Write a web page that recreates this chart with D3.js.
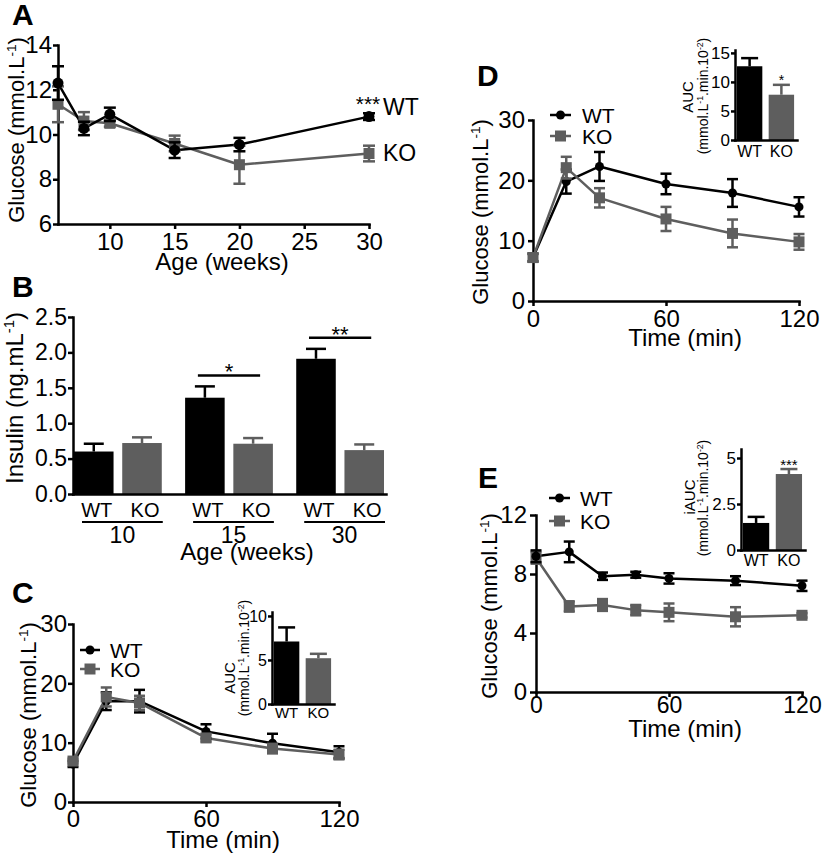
<!DOCTYPE html>
<html><head><meta charset="utf-8">
<script src="https://cdn.jsdelivr.net/npm/d3@7/dist/d3.min.js"></script>
<style>html,body{margin:0;padding:0;background:#fff}</style>
</head><body>
<svg id="chart" width="827" height="855" xmlns="http://www.w3.org/2000/svg"></svg>
<script>
// ---------------- DATA ----------------
// Panel A: glucose vs age
const ageWeeks  = [6, 8, 10, 15, 20, 30];
const ageWT     = [12.3, 10.27, 10.9, 9.3, 9.55, 10.8];
const ageWTerr  = [0.75, 0.3, 0.3, 0.35, 0.3, 0.15];
const ageKO     = [11.35, 10.6, 10.5, 9.6, 8.65, 9.15];
const ageKOerr  = [0.8, 0.4, 0.15, 0.35, 0.85, 0.35];
const ageXTicks = [10, 15, 20, 25, 30];
const ageYTicks = [6, 8, 10, 12, 14];

// Panel B: insulin
const insulinAges   = ["10", "15", "30"];
const genotypes     = ["WT", "KO"];
const insulinWT     = [0.6, 1.36, 1.91];
const insulinWTerr  = [0.11, 0.16, 0.14];
const insulinKO     = [0.72, 0.71, 0.62];
const insulinKOerr  = [0.08, 0.08, 0.08];
const insulinSig    = ["", "*", "**"];
const insulinYTicks = [0, 0.5, 1.0, 1.5, 2.0, 2.5];

// Panels C, D: glucose tolerance (time in min)
const gttTime   = [0, 15, 30, 60, 90, 120];
const timeTicks = [0, 60, 120];
const glucYTicks30 = [0, 10, 20, 30];
const gttC_WT    = [6.4, 17.0, 17.0, 11.9, 9.9, 8.4];
const gttC_WTerr = [0.5, 1.5, 1.9, 1.2, 1.6, 1.0];
const gttC_KO    = [6.9, 17.7, 16.7, 10.8, 9.0, 8.0];
const gttC_KOerr = [0.4, 1.6, 1.2, 0.6, 0.8, 0.8];
const aucC       = [7.1, 5.2];
const aucCerr    = [1.6, 0.5];
const aucCTicks  = [0, 5, 10];

const gttD_WT    = [7.2, 19.8, 22.3, 19.4, 17.9, 15.6];
const gttD_WTerr = [0.6, 2.0, 2.4, 1.7, 2.3, 1.6];
const gttD_KO    = [7.2, 22.1, 17.1, 13.6, 11.2, 9.8];
const gttD_KOerr = [0.7, 1.8, 1.6, 2.0, 2.3, 1.3];
const aucD       = [12.7, 7.8];
const aucDerr    = [1.4, 1.7];
const aucDSig    = ["", "*"];
const aucDTicks  = [0, 5, 10, 15];

// Panel E: insulin tolerance
const ittTime    = [0, 15, 30, 45, 60, 90, 120];
const ittYTicks  = [0, 4, 8, 12];
const ittE_WT    = [9.2, 9.5, 7.85, 7.95, 7.7, 7.55, 7.2];
const ittE_WTerr = [0.4, 0.7, 0.25, 0.2, 0.35, 0.3, 0.35];
const ittE_KO    = [9.1, 5.8, 5.9, 5.55, 5.4, 5.1, 5.2];
const ittE_KOerr = [0.4, 0.35, 0.4, 0.35, 0.6, 0.65, 0.15];
const iaucE      = [1.47, 4.13];
const iaucEerr   = [0.33, 0.27];
const iaucESig   = ["", "***"];
const iaucETicks = [0, 2.5, 5];

// ---------------- STYLE ----------------
const FONT = '"Liberation Sans", Arial, Helvetica, sans-serif';
const BLACK = "#000000";
const GRAY = "#5e5e5e";
const LW = 2.5;

const svg = d3.select("#chart").attr("font-family", FONT);

function label(g, x, y, content, o = {}) {
  const size = o.size || 24;
  const t = g.append("text")
    .attr("transform", `translate(${x},${y})` + (o.rot ? " rotate(-90)" : ""))
    .attr("font-size", size)
    .attr("font-family", FONT)
    .attr("font-weight", o.bold ? "bold" : "normal")
    .attr("text-anchor", o.anchor || "middle")
    .attr("fill", "#000");
  const parts = Array.isArray(content) ? content : [content];
  let shifted = false;
  parts.forEach(p => {
    if (typeof p === "object") {
      t.append("tspan").attr("font-size", size * 0.62).attr("dy", -size * 0.38).text(p.sup);
      shifted = true;
    } else {
      const ts = t.append("tspan").text(p);
      if (shifted) ts.attr("dy", size * 0.38);
      shifted = false;
    }
  });
  return t;
}

function styleAxis(sel, fs) {
  sel.attr("font-family", FONT).attr("font-size", fs);
  sel.select(".domain").attr("stroke-width", LW).attr("stroke-linecap", "square").attr("stroke", "#000");
  sel.selectAll(".tick line").attr("stroke-width", LW).attr("stroke", "#000");
  sel.selectAll(".tick text").attr("fill", "#000");
}

function seriesLine(g, x, y, xs, vals, color) {
  g.append("path").datum(vals)
    .attr("fill", "none").attr("stroke", color).attr("stroke-width", LW)
    .attr("stroke-linejoin", "round")
    .attr("d", d3.line().x((d, i) => x(xs[i])).y(d => y(d)));
}

function seriesPoints(g, x, y, xs, vals, errs, color, shape, o = {}) {
  const cap = o.cap || 11, r = o.r || 5, sq = o.sq || 11;
  const idx = d3.range(vals.length);
  const gg = g.append("g");
  gg.selectAll("line.eb").data(idx).join("line")
    .attr("x1", i => x(xs[i])).attr("x2", i => x(xs[i]))
    .attr("y1", i => y(vals[i] + errs[i])).attr("y2", i => y(vals[i] - errs[i]))
    .attr("stroke", color).attr("stroke-width", LW);
  gg.selectAll("line.capt").data(idx).join("line")
    .attr("x1", i => x(xs[i]) - cap / 2).attr("x2", i => x(xs[i]) + cap / 2)
    .attr("y1", i => y(vals[i] + errs[i])).attr("y2", i => y(vals[i] + errs[i]))
    .attr("stroke", color).attr("stroke-width", LW);
  gg.selectAll("line.capb").data(idx).join("line")
    .attr("x1", i => x(xs[i]) - cap / 2).attr("x2", i => x(xs[i]) + cap / 2)
    .attr("y1", i => y(vals[i] - errs[i])).attr("y2", i => y(vals[i] - errs[i]))
    .attr("stroke", color).attr("stroke-width", LW);
  if (shape === "circle") {
    gg.selectAll("circle").data(idx).join("circle")
      .attr("cx", i => x(xs[i])).attr("cy", i => y(vals[i])).attr("r", r).attr("fill", color);
  } else {
    gg.selectAll("rect").data(idx).join("rect")
      .attr("x", i => x(xs[i]) - sq / 2).attr("y", i => y(vals[i]) - sq / 2)
      .attr("width", sq).attr("height", sq).attr("fill", color);
  }
}

function legend(g, x0, x1, yWT, yKO, tx, fs) {
  [[yWT, BLACK, "circle", "WT"], [yKO, GRAY, "square", "KO"]].forEach(([yy, c, sh, name]) => {
    g.append("line").attr("x1", x0).attr("x2", x1).attr("y1", yy).attr("y2", yy)
      .attr("stroke", c).attr("stroke-width", LW);
    const cx = (x0 + x1) / 2;
    if (sh === "circle") g.append("circle").attr("cx", cx).attr("cy", yy).attr("r", 4.5).attr("fill", c);
    else g.append("rect").attr("x", cx - 5.5).attr("y", yy - 5.5).attr("width", 11).attr("height", 11).attr("fill", c);
    label(g, tx, yy + fs * 0.36, name, { size: fs, anchor: "start" });
  });
}

// Inset bar chart
function inset(g, o) {
  const y = d3.scaleLinear().domain([0, o.axisMax]).range([o.base, o.top]);
  const x = d3.scaleBand().domain(genotypes).range([o.x0, o.x1]).paddingInner(0.2).paddingOuter(0.06);
  const colors = [BLACK, GRAY];
  const idx = [0, 1];
  g.selectAll(null).data(idx).join("rect")
    .attr("x", i => x(genotypes[i])).attr("width", x.bandwidth())
    .attr("y", i => y(o.vals[i])).attr("height", i => o.base - y(o.vals[i]))
    .attr("fill", i => colors[i]);
  const cap = o.cap || 17;
  g.selectAll(null).data(idx).join("line")
    .attr("x1", i => x(genotypes[i]) + x.bandwidth() / 2).attr("x2", i => x(genotypes[i]) + x.bandwidth() / 2)
    .attr("y1", i => y(o.vals[i])).attr("y2", i => y(o.vals[i] + o.errs[i]))
    .attr("stroke", i => colors[i]).attr("stroke-width", LW);
  g.selectAll(null).data(idx).join("line")
    .attr("x1", i => x(genotypes[i]) + x.bandwidth() / 2 - cap / 2).attr("x2", i => x(genotypes[i]) + x.bandwidth() / 2 + cap / 2)
    .attr("y1", i => y(o.vals[i] + o.errs[i])).attr("y2", i => y(o.vals[i] + o.errs[i]))
    .attr("stroke", i => colors[i]).attr("stroke-width", LW);
  const ax = g.append("g").attr("transform", `translate(${o.x0},0)`)
    .call(d3.axisLeft(y).tickValues(o.ticks).tickFormat(o.fmt || d3.format("~g")).tickSize(4).tickPadding(1).tickSizeOuter(0));
  styleAxis(ax, o.tickFs || 16);
  const bx = g.append("g").attr("transform", `translate(0,${o.base})`)
    .call(d3.axisBottom(d3.scaleLinear().range([o.x0, o.x1 + 1])).tickValues([]).tickSizeOuter(0));
  styleAxis(bx, 14);
  genotypes.forEach((gname, i) => {
    label(g, x(gname) + x.bandwidth() / 2 + (o.labDx || 0), o.labY, gname, { size: o.labFs || 15 });
  });
  if (o.sig) o.sig.forEach((s, i) => {
    if (s) label(g, x(genotypes[i]) + x.bandwidth() / 2, y(o.vals[i] + o.errs[i]) - 4 + (o.sigFs || 14) * 0.3, s, { size: o.sigFs || 14 });
  });
  label(g, o.t1x, o.t1y, o.t1, { size: 15, rot: true });
  label(g, o.t2x, o.t2y, ["(mmol.L", { sup: "-1" }, ".min.10", { sup: "-2" }, ")"], { size: 14, rot: true });
}

// ---------------- PANEL A ----------------
{
  const g = svg.append("g");
  const x = d3.scaleLinear().domain([6, 30]).range([58, 369]);
  const y = d3.scaleLinear().domain([6, 14]).range([224, 45]);
  const ay = g.append("g").attr("transform", "translate(58,0)")
    .call(d3.axisLeft(y).tickValues(ageYTicks).tickSize(5).tickPadding(1).tickSizeOuter(0));
  styleAxis(ay, 24);
  const ax = g.append("g").attr("transform", "translate(0,224)")
    .call(d3.axisBottom(x).tickValues(ageXTicks).tickSize(5).tickPadding(4).tickSizeOuter(0));
  styleAxis(ax, 24);
  seriesLine(g, x, y, ageWeeks, ageKO, GRAY);
  seriesLine(g, x, y, ageWeeks, ageWT, BLACK);
  seriesPoints(g, x, y, ageWeeks, ageKO, ageKOerr, GRAY, "square", { cap: 12, sq: 11 });
  seriesPoints(g, x, y, ageWeeks, ageWT, ageWTerr, BLACK, "circle", { cap: 12, r: 5.5 });
  label(g, 12, 25, "A", { size: 30, bold: true, anchor: "start" });
  label(g, 24, 130, ["Glucose (mmol.L", { sup: "-1" }, ")"], { size: 22, rot: true });
  label(g, 222, 270, "Age (weeks)", { size: 24 });
  const last = ageWeeks.length - 1;
  label(g, 383, y(ageWT[last]) - 10 + 8, "WT", { size: 23, anchor: "start" });
  label(g, 383, y(ageKO[last]) - 1 + 8, "KO", { size: 23, anchor: "start" });
  label(g, 368, 111, "***", { size: 21 });
}

// ---------------- PANEL B ----------------
{
  const g = svg.append("g");
  const y = d3.scaleLinear().domain([0, 2.5]).range([494, 317]);
  const xg = d3.scaleBand().domain(insulinAges).range([74, 384]).paddingInner(0.21);
  const xi = d3.scaleBand().domain(genotypes).range([0, xg.bandwidth()]).paddingInner(0.18);
  const rows = [];
  insulinAges.forEach((a, j) => {
    rows.push({ a, gt: "WT", v: insulinWT[j], e: insulinWTerr[j], c: BLACK });
    rows.push({ a, gt: "KO", v: insulinKO[j], e: insulinKOerr[j], c: GRAY });
  });
  const cx = d => xg(d.a) + xi(d.gt) + xi.bandwidth() / 2;
  g.selectAll("rect.bar").data(rows).join("rect")
    .attr("x", d => xg(d.a) + xi(d.gt)).attr("width", xi.bandwidth())
    .attr("y", d => y(d.v)).attr("height", d => y(0) - y(d.v)).attr("fill", d => d.c);
  g.selectAll("line.eb").data(rows).join("line")
    .attr("x1", cx).attr("x2", cx).attr("y1", d => y(d.v)).attr("y2", d => y(d.v + d.e))
    .attr("stroke", d => d.c).attr("stroke-width", LW);
  g.selectAll("line.cap").data(rows).join("line")
    .attr("x1", d => cx(d) - 10).attr("x2", d => cx(d) + 10)
    .attr("y1", d => y(d.v + d.e)).attr("y2", d => y(d.v + d.e))
    .attr("stroke", d => d.c).attr("stroke-width", LW);
  const ay = g.append("g").attr("transform", "translate(73,0)")
    .call(d3.axisLeft(y).tickValues(insulinYTicks).tickFormat(d3.format(".1f")).tickSize(5).tickPadding(1).tickSizeOuter(0));
  styleAxis(ay, 23);
  const ax = g.append("g").attr("transform", "translate(0,494)")
    .call(d3.axisBottom(d3.scaleLinear().range([73, 386])).tickValues([]).tickSizeOuter(0));
  styleAxis(ax, 20);
  // category labels
  rows.forEach(d => label(g, cx(d) + 3, 517, d.gt, { size: 20 }));
  insulinAges.forEach((a, j) => {
    const x0 = xg(a) + 8, x1 = xg(a) + xg.bandwidth() + 1;
    g.append("line").attr("x1", x0).attr("x2", x1).attr("y1", 522).attr("y2", 522)
      .attr("stroke", "#000").attr("stroke-width", 2);
    label(g, (x0 + x1) / 2 + 0, 543, a, { size: 23 });
    if (insulinSig[j]) {
      const wt = rows[j * 2], ko = rows[j * 2 + 1];
      const top = Math.max(wt.v + wt.e, ko.v + ko.e);
      const ly = y(top) - 11;
      g.append("line").attr("x1", cx(wt) - 7).attr("x2", cx(ko) + 7).attr("y1", ly).attr("y2", ly)
        .attr("stroke", "#000").attr("stroke-width", LW);
      label(g, (cx(wt) + cx(ko)) / 2, ly + 4, insulinSig[j], { size: 22 });
    }
  });
  label(g, 247, 560, "Age (weeks)", { size: 24 });
  label(g, 12, 297, "B", { size: 30, bold: true, anchor: "start" });
  label(g, 23, 398, ["Insulin (ng.mL", { sup: "-1" }, ")"], { size: 24, rot: true });
}

// ---------------- PANEL C ----------------
{
  const g = svg.append("g");
  const x = d3.scaleLinear().domain([0, 120]).range([73, 339]);
  const y = d3.scaleLinear().domain([0, 30]).range([802, 624]);
  const ay = g.append("g").attr("transform", "translate(73,0)")
    .call(d3.axisLeft(y).tickValues(glucYTicks30).tickSize(5).tickPadding(1).tickSizeOuter(0));
  styleAxis(ay, 24);
  const ax = g.append("g").attr("transform", "translate(0,802)")
    .call(d3.axisBottom(x).tickValues(timeTicks).tickSize(5).tickPadding(3).tickSizeOuter(0));
  styleAxis(ax, 24);
  seriesLine(g, x, y, gttTime, gttC_WT, BLACK);
  seriesLine(g, x, y, gttTime, gttC_KO, GRAY);
  seriesPoints(g, x, y, gttTime, gttC_WT, gttC_WTerr, BLACK, "circle", { r: 4.5 });
  seriesPoints(g, x, y, gttTime, gttC_KO, gttC_KOerr, GRAY, "square", { sq: 11 });
  legend(g, 80, 100, 650, 669, 110, 21);
  label(g, 12, 603, "C", { size: 30, bold: true, anchor: "start" });
  label(g, 36, 715, ["Glucose (mmol.L", { sup: "-1" }, ")"], { size: 22, rot: true });
  label(g, 223, 848, "Time (min)", { size: 24 });
  inset(g, {
    x0: 272, x1: 333, base: 704, top: 612, axisMax: 10.45, ticks: aucCTicks,
    vals: aucC, errs: aucCerr, labY: 718, labFs: 15, tickFs: 16,
    t1: "AUC", t1x: 235, t1y: 678, t2x: 249, t2y: 658
  });
}

// ---------------- PANEL D ----------------
{
  const g = svg.append("g");
  const x = d3.scaleLinear().domain([0, 120]).range([533, 799]);
  const y = d3.scaleLinear().domain([0, 30]).range([301, 120]);
  const ay = g.append("g").attr("transform", "translate(533,0)")
    .call(d3.axisLeft(y).tickValues(glucYTicks30).tickSize(5).tickPadding(3).tickSizeOuter(0));
  styleAxis(ay, 24);
  const ax = g.append("g").attr("transform", "translate(0,301)")
    .call(d3.axisBottom(x).tickValues(timeTicks).tickSize(5).tickPadding(4).tickSizeOuter(0));
  styleAxis(ax, 24);
  seriesLine(g, x, y, gttTime, gttD_WT, BLACK);
  seriesLine(g, x, y, gttTime, gttD_KO, GRAY);
  seriesPoints(g, x, y, gttTime, gttD_WT, gttD_WTerr, BLACK, "circle", { r: 4.5 });
  seriesPoints(g, x, y, gttTime, gttD_KO, gttD_KOerr, GRAY, "square", { sq: 11 });
  legend(g, 550, 571, 115, 136, 582, 21);
  label(g, 477, 86, "D", { size: 30, bold: true, anchor: "start" });
  label(g, 488, 212, ["Glucose (mmol.L", { sup: "-1" }, ")"], { size: 22, rot: true });
  label(g, 685, 346, "Time (min)", { size: 24 });
  inset(g, {
    x0: 735, x1: 796, base: 140, top: 50, axisMax: 15.5, ticks: aucDTicks,
    vals: aucD, errs: aucDerr, sig: aucDSig, labY: 157, labFs: 16, tickFs: 17,
    t1: "AUC", t1x: 693, t1y: 97, t2x: 708, t2y: 96
  });
}

// ---------------- PANEL E ----------------
{
  const g = svg.append("g");
  const x = d3.scaleLinear().domain([0, 120]).range([536, 802]);
  const y = d3.scaleLinear().domain([0, 12]).range([692, 515]);
  const ay = g.append("g").attr("transform", "translate(536,0)")
    .call(d3.axisLeft(y).tickValues(ittYTicks).tickSize(6).tickPadding(3).tickSizeOuter(0));
  styleAxis(ay, 24);
  const ax = g.append("g").attr("transform", "translate(0,692)")
    .call(d3.axisBottom(x).tickValues(timeTicks).tickSize(5).tickPadding(0).tickSizeOuter(0));
  styleAxis(ax, 23);
  seriesLine(g, x, y, ittTime, ittE_KO, GRAY);
  seriesLine(g, x, y, ittTime, ittE_WT, BLACK);
  seriesPoints(g, x, y, ittTime, ittE_KO, ittE_KOerr, GRAY, "square", { sq: 11 });
  seriesPoints(g, x, y, ittTime, ittE_WT, ittE_WTerr, BLACK, "circle", { r: 4.5 });
  legend(g, 549, 570, 498, 521, 580, 21);
  label(g, 478, 488, "E", { size: 30, bold: true, anchor: "start" });
  label(g, 497, 606, ["Glucose (mmol.L", { sup: "-1" }, ")"], { size: 22, rot: true });
  label(g, 685, 737, "Time (min)", { size: 24 });
  inset(g, {
    x0: 741, x1: 804, base: 550, top: 449, axisMax: 5.49, ticks: iaucETicks, fmt: d3.format("~g"),
    vals: iaucE, errs: iaucEerr, sig: iaucESig, sigFs: 15, labY: 566, labFs: 16, tickFs: 17,
    t1: "iAUC", t1x: 695, t1y: 497, t2x: 708, t2y: 498
  });
}
</script>
</body></html>
